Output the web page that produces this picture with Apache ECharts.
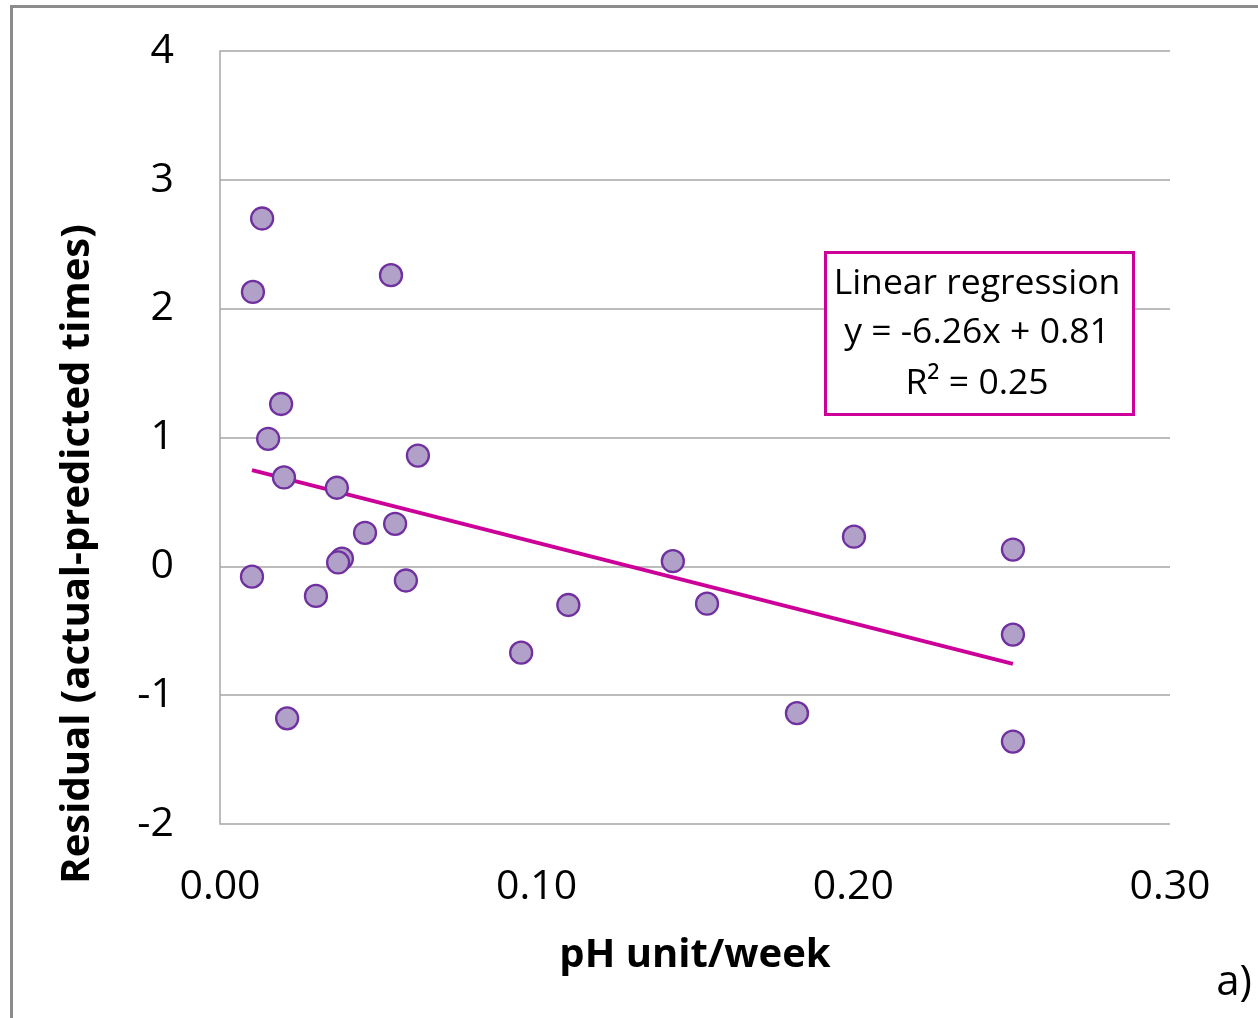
<!DOCTYPE html>
<html><head><meta charset="utf-8">
<script src="https://cdn.jsdelivr.net/npm/echarts@6/dist/echarts.min.js"></script>
<style>
html,body{margin:0;padding:0;background:#fff;}
#wrap{position:absolute;left:0;top:0;width:1258px;height:1018px;}
#border{position:absolute;left:10px;top:5px;width:1300px;height:1100px;border-left:3px solid #8c8c8c;border-top:3px solid #8c8c8c;box-sizing:border-box;}
#chart{position:absolute;left:0;top:0;width:1258px;height:1018px;}
</style></head>
<body><div id="wrap"><div id="border"></div><div id="chart"></div></div>
<script>
const phRate = [0.0133,0.0104,0.054,0.0193,0.0152,0.0625,0.0202,0.0369,0.0553,0.0458,0.0385,0.0373,0.0101,0.0587,0.0303,0.0212,0.0951,0.110,0.143,0.1538,0.2002,0.1822,0.2504,0.2504,0.2504];
const residual = [2.70,2.13,2.26,1.26,0.99,0.86,0.69,0.61,0.33,0.26,0.06,0.03,-0.08,-0.11,-0.23,-1.18,-0.67,-0.30,0.04,-0.29,0.23,-1.14,0.13,-0.53,-1.36];
const trendSlope = -6.26;
const trendIntercept = 0.81;
const xTicks = ['0.00','0.10','0.20','0.30'];
const yTicks = ['-2','-1','0','1','2','3','4'];
const boxLines = ['Linear regression','y = -6.26x + 0.81','R\u00B2 = 0.25'];
const xTitle = 'pH unit/week';
const yTitle = 'Residual (actual-predicted times)';
const panelLabel = 'a)';

const pts = phRate.map((x,i)=>[x,residual[i]]);
const xMin = Math.min(...phRate), xMax = Math.max(...phRate);
const trend = [[xMin, trendIntercept + trendSlope*xMin],[xMax, trendIntercept + trendSlope*xMax]];
const FONT = '"Open Sans", "Noto Sans", sans-serif';

const chart = echarts.init(document.getElementById('chart'), null, {renderer:'canvas'});
chart.setOption({
  animation:false,
  backgroundColor:'transparent',
  grid:{left:220,right:88,top:51,bottom:194,containLabel:false},
  xAxis:{type:'value',min:0,max:0.3,interval:0.1,
    name:xTitle,nameLocation:'middle',nameGap:112,
    nameTextStyle:{fontFamily:FONT,fontSize:40,fontWeight:'bold',color:'#000',verticalAlign:'top'},
    axisLine:{show:false},axisTick:{show:false},splitLine:{show:false},
    axisLabel:{margin:43,fontFamily:FONT,fontSize:41,color:'#000',formatter:(v)=>xTicks[Math.round(v*10)]}
  },
  yAxis:{type:'value',min:-2,max:4,interval:1,
    axisLine:{show:true,onZero:false,lineStyle:{color:'#a6a6a6',width:1.5}},axisTick:{show:false},
    splitLine:{show:true,lineStyle:{color:'#a6a6a6',width:1.5}},
    axisLabel:{margin:46,fontFamily:FONT,fontSize:41,color:'#000',formatter:(v)=>yTicks[Math.round(v)+2]}
  },
  series:[
    {type:'line',data:trend,symbol:'none',lineStyle:{color:'#cc0099',width:4},z:3},
    {type:'scatter',data:pts,symbol:'circle',symbolSize:22,
      itemStyle:{color:'#b1a0c7',borderColor:'#7030a0',borderWidth:2.3,opacity:1},z:4}
  ],
  graphic:[
    {type:'text',x:78,y:554,rotation:Math.PI/2,style:{text:yTitle,font:'bold 40px '+FONT,fill:'#000',textAlign:'center',textVerticalAlign:'middle'},z:11},
    {type:'rect',left:824,top:251,shape:{width:308,height:162},style:{fill:'#fff',stroke:'#cc0099',lineWidth:3},z:10},
    {type:'text',x:977,y:284,style:{text:boxLines[0],font:'35.5px '+FONT,fill:'#000',textAlign:'center',textVerticalAlign:'middle'},z:11},
    {type:'text',x:977,y:333,style:{text:boxLines[1],font:'35.5px '+FONT,fill:'#000',textAlign:'center',textVerticalAlign:'middle'},z:11},
    {type:'text',x:977,y:384,style:{text:boxLines[2],font:'35.5px '+FONT,fill:'#000',textAlign:'center',textVerticalAlign:'middle'},z:11},
    {type:'text',x:1234,y:983,style:{text:panelLabel,font:'42px '+FONT,fill:'#000',textAlign:'center',textVerticalAlign:'middle'},z:11}
  ]
});
</script></body></html>
